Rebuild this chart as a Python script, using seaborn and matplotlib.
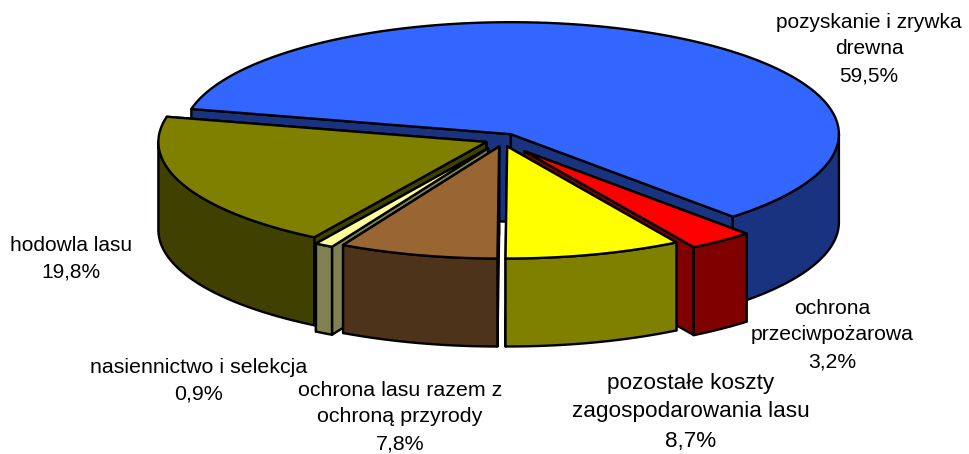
import numpy as np
import matplotlib
matplotlib.use('Agg')
import matplotlib.pyplot as plt
import seaborn as sns

# Data, counter-clockwise starting from the left edge of the blue slice's neighbour
categories = ['hodowla lasu', 'nasiennictwo i selekcja', 'ochrona lasu razem z\nochroną przyrody',
              'pozostałe koszty\nzagospodarowania lasu', 'ochrona\nprzeciwpożarowa',
              'pozyskanie i zrywka\ndrewna']
shares = [19.8, 0.9, 7.8, 8.7, 3.2, 59.5]

top_colors = ['#808000', '#FFFF99', '#996633', '#FFFF00', '#FF0000', '#3366FF']
side_colors = ['#404000', '#808050', '#4D331A', '#808000', '#800000', '#1A3380']
label_pos = [(71, 259), (199, 381), (400, 417), (691, 412), (832, 335), (869, 49)]
label_size = [15, 15.4, 15.4, 16.2, 15.2, 15]

# How far each slice is pulled out, plus small pixel corrections along x
explode = [0.045, 0.085, 0.06, 0.06, 0.125, 0.06]
nudge_x = [0, 2, 4, 2, 0, 1]

sns.set_theme(style='white')
plt.rcParams['font.family'] = ['Liberation Sans', 'DejaVu Sans']

fig, ax = plt.subplots(figsize=(9.69, 4.54), dpi=100)
ax.set_position([0, 0, 1, 1])
ax.set_xlim(0, 969)
ax.set_ylim(454, 0)
ax.axis('off')

# Pie geometry in pixels
cx, cy = 500, 140
rx, ry = 328, 112
depth = 88
first_angle = 167
lw = 1.7


def point(apex, ang):
    a = np.radians(ang)
    return apex[0] + rx * np.cos(a), apex[1] - ry * np.sin(a)


def poly(xy, color):
    xy = np.array(xy)
    ax.fill(xy[:, 0], xy[:, 1], facecolor=color, edgecolor='black', linewidth=lw, joinstyle='round')


def draw_slice(start, end, top, side, pull, dx):
    mid = np.radians((start + end) / 2)
    apex = (cx + dx + pull * rx * np.cos(mid), cy - pull * ry * np.sin(mid))
    low = np.array([0, depth])

    # cut faces, the one further back first
    for ang in sorted((start, end), key=lambda t: point(apex, t)[1]):
        p = np.array(point(apex, ang))
        a = np.array(apex)
        poly([a, p, p + low, a + low], side)

    # front of the rim, only the part facing the viewer
    for lo, hi in ((180, 360), (540, 720)):
        s, e = max(start, lo), min(end, hi)
        if s < e:
            arc = np.array([point(apex, t) for t in np.linspace(s, e, 80)])
            poly(np.vstack([arc, arc[::-1] + low]), side)

    arc = [point(apex, t) for t in np.linspace(start, end, 200)]
    poly([apex] + arc, top)


# Slice angles come from the shares
sweeps = np.array(shares) / sum(shares) * 360
starts = first_angle + np.concatenate([[0], np.cumsum(sweeps)[:-1]])
ends = starts + sweeps

# Painter's order, back to front
for i in [5, 4, 3, 0, 1, 2]:
    draw_slice(starts[i], ends[i], top_colors[i], side_colors[i], explode[i], nudge_x[i])

for name, val, (x, y), size in zip(categories, shares, label_pos, label_size):
    txt = name + '\n' + f'{val:.1f}%'.replace('.', ',')
    ax.text(x, y, txt, ha='center', va='center', fontsize=size, color='black', linespacing=1.5, clip_on=False)

sns.despine(left=True, bottom=True)
fig.savefig('out.png', dpi=100)
